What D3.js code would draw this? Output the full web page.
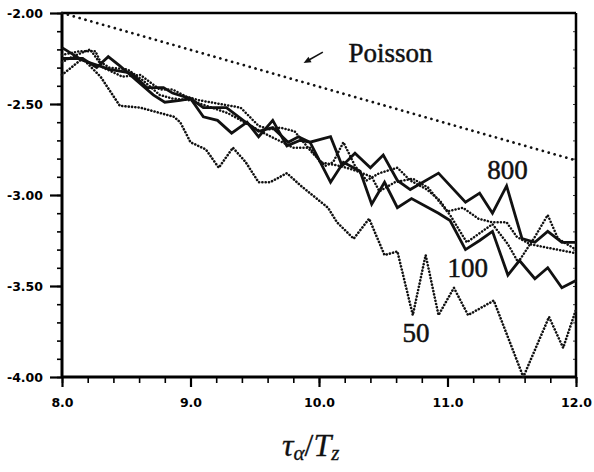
<!DOCTYPE html>
<html>
<head>
<meta charset="utf-8">
<script src="https://cdn.jsdelivr.net/npm/d3@7"></script>
<style>
  body { margin: 0; background: #fff; }
  svg { display: block; }
  .tick text { font-family: "DejaVu Sans", sans-serif; font-weight: bold; font-size: 12.5px; }
</style>
</head>
<body>
<svg id="chart" width="594" height="472"></svg>
<script>
// tick values / labels
const xTicks = [8, 9, 10, 11, 12];
const xTickLabels = ["8.0", "9.0", "10.0", "11.0", "12.0"];
const yTicks = [-2.0, -2.5, -3.0, -3.5, -4.0];
const yTickLabels = ["-2.00", "-2.50", "-3.00", "-3.50", "-4.00"];

// curves: [x, y]
const poisson = [[8.0, -2.00], [12.0, -2.81]];

const n800 = [[8.00,-2.25],[8.16,-2.25],[8.27,-2.30],[8.36,-2.24],[8.45,-2.29],[8.58,-2.37],[8.71,-2.45],
  [8.80,-2.49],[8.92,-2.48],[9.00,-2.47],[9.10,-2.52],[9.28,-2.52],[9.41,-2.59],[9.53,-2.65],[9.64,-2.63],
  [9.76,-2.71],[9.84,-2.68],[9.93,-2.71],[10.09,-2.68],[10.18,-2.84],[10.28,-2.77],[10.40,-2.85],[10.50,-2.78],
  [10.61,-2.92],[10.71,-2.97],[10.93,-2.88],[11.14,-3.04],[11.25,-2.99],[11.35,-3.10],[11.46,-2.95],
  [11.58,-3.24],[11.68,-3.26],[11.78,-3.20],[11.89,-3.26],[12.00,-3.26]];

const n100 = [[8.00,-2.19],[8.16,-2.26],[8.37,-2.31],[8.54,-2.33],[8.66,-2.41],[8.79,-2.41],[8.86,-2.44],
  [9.00,-2.47],[9.10,-2.57],[9.21,-2.59],[9.32,-2.66],[9.44,-2.60],[9.53,-2.68],[9.64,-2.59],[9.75,-2.73],
  [9.85,-2.70],[9.93,-2.71],[10.09,-2.93],[10.19,-2.82],[10.32,-2.87],[10.41,-3.05],[10.51,-2.93],
  [10.61,-3.07],[10.72,-3.02],[10.93,-3.10],[11.02,-3.14],[11.14,-3.30],[11.25,-3.25],[11.35,-3.20],
  [11.47,-3.44],[11.56,-3.36],[11.68,-3.46],[11.78,-3.40],[11.89,-3.51],[12.00,-3.47]];

const dotA = [[8.00,-2.27],[8.08,-2.24],[8.22,-2.20],[8.32,-2.30],[8.47,-2.35],[8.61,-2.34],[8.76,-2.42],
  [8.86,-2.42],[8.97,-2.46],[9.07,-2.48],[9.31,-2.51],[9.39,-2.52],[9.53,-2.62],[9.62,-2.64],[9.70,-2.63],
  [9.81,-2.65],[9.95,-2.77],[10.05,-2.84],[10.11,-2.82],[10.19,-2.71],[10.28,-2.84],[10.37,-2.92],
  [10.47,-2.88],[10.61,-2.85],[10.71,-2.92],[10.84,-2.97],[10.94,-3.03],[11.00,-3.09],[11.12,-3.07],
  [11.24,-3.13],[11.35,-3.15],[11.46,-3.15],[11.54,-3.23],[11.64,-3.27],[11.78,-3.29],[12.00,-3.32]];

const dotB = [[8.00,-2.23],[8.14,-2.21],[8.26,-2.21],[8.30,-2.27],[8.37,-2.30],[8.51,-2.31],[8.63,-2.37],
  [8.76,-2.45],[8.86,-2.47],[9.00,-2.48],[9.29,-2.55],[9.52,-2.64],[9.60,-2.67],[9.80,-2.74],[9.93,-2.74],
  [10.01,-2.82],[10.16,-2.84],[10.26,-2.86],[10.41,-2.90],[10.47,-2.98],[10.59,-2.93],[10.73,-2.91],
  [10.85,-2.96],[11.02,-3.11],[11.15,-3.26],[11.35,-3.16],[11.47,-3.27],[11.55,-3.37],[11.68,-3.23],
  [11.78,-3.11],[11.86,-3.24],[12.00,-3.30]];

const n50 = [[8.00,-2.34],[8.16,-2.25],[8.30,-2.35],[8.45,-2.51],[8.61,-2.52],[8.87,-2.57],[8.92,-2.60],
  [9.00,-2.71],[9.12,-2.75],[9.22,-2.85],[9.33,-2.74],[9.43,-2.82],[9.53,-2.93],[9.62,-2.93],[9.75,-2.88],
  [9.86,-2.95],[10.07,-3.07],[10.14,-3.15],[10.27,-3.24],[10.39,-3.13],[10.51,-3.33],[10.61,-3.31],
  [10.73,-3.66],[10.83,-3.33],[10.93,-3.66],[11.05,-3.51],[11.16,-3.66],[11.36,-3.58],[11.59,-4.00],
  [11.79,-3.67],[11.90,-3.84],[12.00,-3.63]];

const margin = { top: 13, right: 18, bottom: 95, left: 62 };
const width = 594, height = 472;
const innerW = width - margin.left - margin.right;
const innerH = height - margin.top - margin.bottom;

const serif = '"Liberation Serif", "Times New Roman", serif';

const svg = d3.select("#chart");
const g = svg.append("g").attr("transform", `translate(${margin.left},${margin.top})`);

const x = d3.scaleLinear().domain([8, 12]).range([0, innerW]);
const y = d3.scaleLinear().domain([-4, -2]).range([innerH, 0]);

// minor ticks
g.append("g")
  .attr("transform", `translate(0,${innerH})`)
  .call(d3.axisBottom(x).tickValues(d3.range(8, 12.01, 0.2)).tickSize(6).tickFormat(""))
  .call(a => a.select(".domain").remove())
  .selectAll("line").attr("stroke-width", 1.6);
g.append("g")
  .call(d3.axisLeft(y).tickValues(d3.range(-4, -1.99, 0.1)).tickSize(5).tickFormat(""))
  .call(a => a.select(".domain").remove())
  .selectAll("line").attr("stroke-width", 1.6);
g.append("g")
  .attr("transform", `translate(${innerW},0)`)
  .call(d3.axisLeft(y).tickValues(d3.range(-4, -1.99, 0.1)).tickSize(3).tickFormat(""))
  .call(a => a.select(".domain").remove())
  .selectAll("line").attr("stroke-width", 0.8);

// major ticks + labels
g.append("g")
  .attr("transform", `translate(0,${innerH})`)
  .call(d3.axisBottom(x).tickValues(xTicks).tickSize(10).tickPadding(11)
    .tickFormat((d, i) => xTickLabels[i]))
  .call(a => a.select(".domain").remove())
  .selectAll("line").attr("stroke-width", 2.2);
g.append("g")
  .call(d3.axisLeft(y).tickValues(yTicks).tickSize(12).tickPadding(7)
    .tickFormat((d, i) => yTickLabels[i]))
  .call(a => a.select(".domain").remove())
  .selectAll("line").attr("stroke-width", 2.2);

// frame
g.append("line").attr("x1", 0).attr("x2", innerW).attr("y1", 0).attr("y2", 0)
  .attr("stroke", "#000").attr("stroke-width", 2.5);
g.append("line").attr("x1", innerW).attr("x2", innerW).attr("y1", 0).attr("y2", innerH)
  .attr("stroke", "#000").attr("stroke-width", 2.5);
g.append("line").attr("x1", 0).attr("x2", innerW).attr("y1", innerH).attr("y2", innerH)
  .attr("stroke", "#000").attr("stroke-width", 3);
g.append("line").attr("x1", 0).attr("x2", 0).attr("y1", 0).attr("y2", innerH)
  .attr("stroke", "#000").attr("stroke-width", 3);

const line = d3.line().x(d => x(d[0])).y(d => y(d[1]));

const series = [
  { data: poisson, width: 2.7, dash: "0.1,6", cap: "round" },
  { data: n50, width: 2.6, dash: "0.1,3.2", cap: "round" },
  { data: dotA, width: 2.5, dash: "0.1,3.2", cap: "round" },
  { data: dotB, width: 2.5, dash: "0.1,3.2", cap: "round" },
  { data: n100, width: 2.8, dash: null, cap: "butt" },
  { data: n800, width: 2.8, dash: null, cap: "butt" }
];

g.selectAll(".curve")
  .data(series)
  .join("path")
  .attr("class", "curve")
  .attr("d", d => line(d.data))
  .attr("fill", "none")
  .attr("stroke", "#111")
  .attr("stroke-width", d => d.width)
  .attr("stroke-linecap", d => d.cap)
  .attr("stroke-linejoin", "miter")
  .attr("stroke-dasharray", d => d.dash);

// labels
const notes = [
  { t: "Poisson", x: 10.23, y: -2.27 },
  { t: "800", x: 11.31, y: -2.91 },
  { t: "100", x: 11.00, y: -3.45 },
  { t: "50", x: 10.65, y: -3.81 }
];
g.selectAll(".note")
  .data(notes)
  .join("text")
  .attr("class", "note")
  .attr("x", d => x(d.x))
  .attr("y", d => y(d.y))
  .attr("font-family", serif)
  .attr("font-size", 27)
  .attr("fill", "#111")
  .attr("stroke", "#111")
  .attr("stroke-width", 0.5)
  .text(d => d.t);

// arrow next to Poisson
const ax0 = x(10.03), ay0 = y(-2.215), ax1 = x(9.88), ay1 = y(-2.275);
g.append("line")
  .attr("x1", ax0).attr("y1", ay0).attr("x2", ax1 + 4).attr("y2", ay1 - 2.3)
  .attr("stroke", "#111").attr("stroke-width", 1.6);
const ang = Math.atan2(ay1 - ay0, ax1 - ax0);
const head = [[ax1, ay1],
  [ax1 - 8 * Math.cos(ang - 0.4), ay1 - 8 * Math.sin(ang - 0.4)],
  [ax1 - 8 * Math.cos(ang + 0.4), ay1 - 8 * Math.sin(ang + 0.4)]];
g.append("path").attr("d", "M" + head.join("L") + "Z").attr("fill", "#111");

// x axis title: tau_alpha / T_z
const title = svg.append("text")
  .attr("x", 282).attr("y", 456)
  .attr("font-family", serif)
  .attr("font-style", "italic")
  .attr("font-size", 32)
  .attr("fill", "#111")
  .attr("stroke", "#111")
  .attr("stroke-width", 0.3);
title.append("tspan").text("τ");
title.append("tspan").attr("font-size", 21).attr("dy", 4).text("α");
title.append("tspan").attr("dy", -4).attr("font-style", "normal").text("/");
title.append("tspan").text("T");
title.append("tspan").attr("font-size", 21).attr("dy", 4).text("z");
</script>
</body>
</html>
